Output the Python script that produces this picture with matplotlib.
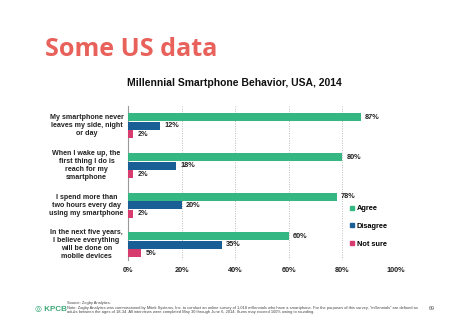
import matplotlib
matplotlib.use("Agg")
import matplotlib.pyplot as plt
from matplotlib.lines import Line2D
import numpy as np

# ── data ──────────────────────────────────────────────
CATEGORIES = [
    "My smartphone never\nleaves my side, night\nor day",
    "When I wake up, the\nfirst thing I do is\nreach for my\nsmartphone",
    "I spend more than\ntwo hours every day\nusing my smartphone",
    "In the next five years,\nI believe everything\nwill be done on\nmobile devices",
]
AGREE    = [87, 80, 78, 60]
DISAGREE = [12, 18, 20, 35]
NOT_SURE = [2, 2, 2, 5]
SERIES   = ["Agree", "Disagree", "Not sure"]
XTICKS   = [0, 20, 40, 60, 80, 100]

COLORS = {"Agree": "#35b783", "Disagree": "#1a5e96", "Not sure": "#d83c6f"}

plt.rcParams["font.family"] = ["Liberation Sans", "DejaVu Sans"]

fig = plt.figure(figsize=(4.74, 3.35), dpi=100)
fig.patch.set_facecolor("white")

# slide title
fig.text(45 / 474, 1 - 49 / 335, "Some US data", fontsize=18.2, fontweight="bold",
         family=["Open Sans", "DejaVu Sans"], color="#e8625b", va="center", ha="left")
# chart title
fig.text(127 / 474, 1 - 83 / 335, "Millennial Smartphone Behavior, USA, 2014",
         fontsize=7.5, fontweight="bold", color="#111111", va="center", ha="left")

ax = fig.add_axes([128 / 474, 1 - 260 / 335, 268 / 474, 154 / 335])

y = np.arange(len(CATEGORIES))
off = 0.215
h = 0.2
for vals, name, dy in zip([AGREE, DISAGREE, NOT_SURE], SERIES, [-off, 0, off]):
    bars = ax.barh(y + dy, vals, height=h, color=COLORS[name], zorder=3)
    for b, v in zip(bars, vals):
        ax.text(v + 1.5, b.get_y() + b.get_height() / 2, f"{v}%",
                fontsize=5.3, fontweight="bold", color="#222222",
                va="center", ha="left")

for yi, lab in zip(y, CATEGORIES):
    ax.text(-15.5, yi, lab, fontsize=5.1, fontweight="bold", color="#222222",
            ha="center", va="center", linespacing=1.2)

ax.set_xlim(0, 100)
ax.set_ylim(3.38, -0.5)
ax.set_yticks([])
ax.set_xticks(XTICKS)
ax.set_xticklabels([f"{t}%" for t in XTICKS], fontsize=5.3, fontweight="bold",
                   color="#222222")
ax.tick_params(axis="x", length=0, pad=5)
for s in ["top", "right", "bottom"]:
    ax.spines[s].set_visible(False)
ax.spines["left"].set_color("#999999")
ax.spines["left"].set_linewidth(0.8)
for t in XTICKS[1:]:
    ax.axvline(t, color="#bbbbbb", linestyle=(0, (1, 1.5)), linewidth=0.7, zorder=1)

handles = [Line2D([], [], marker="s", linestyle="", markersize=2.8,
                  color=COLORS[s], label=s) for s in SERIES]
fig.legend(handles=handles, loc="upper left", bbox_to_anchor=(350 / 474, 1 - 205 / 335),
           frameon=False, prop={"size": 5.3, "weight": "bold"}, handlelength=0.6,
           handletextpad=0.3, labelspacing=1.45, borderaxespad=0, borderpad=0)

# footer
fig.text(35 / 474, 1 - 310 / 335, "\u25ce KPCB", fontsize=5.8, color="#3aa876",
         va="center", ha="left", fontweight="bold")
fig.text(67 / 474, 1 - 307.5 / 335,
         "Source: Zogby Analytics.\n"
         "Note: Zogby Analytics was commissioned by Mitek Systems, Inc. to conduct an online survey of 1,018 millennials who have a smartphone. "
         "For the purposes of this survey, \"millennials\" are defined as\n"
         "adults between the ages of 18-34. All interviews were completed May 30 through June 6, 2014. Sums may exceed 100% owing to rounding.",
         fontsize=2.85, color="#444444", va="center", ha="left", linespacing=1.1)
fig.text(429 / 474, 1 - 309 / 335, "69", fontsize=4, color="#555555",
         va="center", ha="left")

fig.savefig("out.png", dpi=100, facecolor="white")
